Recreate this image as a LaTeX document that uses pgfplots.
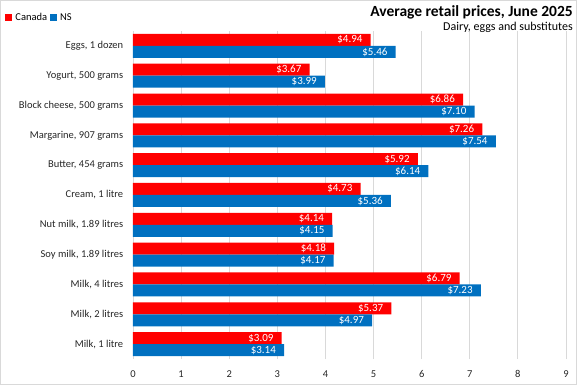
\documentclass[border=0pt]{standalone}
\usepackage{pgfplots}
\pgfplotsset{compat=1.18}
\usepackage{fontspec}
\setmainfont{Carlito}
\definecolor{cred}{HTML}{FF0000}
\definecolor{cblue}{HTML}{0070C0}
\definecolor{gridc}{HTML}{D9D9D9}
\begin{document}
\begin{tikzpicture}
\begin{axis}[
  name=main,
  at={(0pt,0pt)}, anchor=south west,
  scale only axis, width=433pt, height=328pt,
  xmin=0, xmax=9, ymin=-0.5, ymax=10.5,
  xtick={0,...,9},
  ytick={0,...,10},
  yticklabels={{Milk, 1 litre},{Milk, 2 litres},{Milk, 4 litres},{Soy milk, 1.89 litres},{Nut milk, 1.89 litres},{Cream, 1 litre},{Butter, 454 grams},{Margarine, 907 grams},{Block cheese, 500 grams},{Yogurt, 500 grams},{Eggs, 1 dozen}},
  axis line style={draw=none},
  major tick style={draw=none},
  xmajorgrids, grid style={gridc, line width=0.8pt},
  /pgf/number format/assume math mode=true,
  tick label style={font=\fontsize{10.5}{12}\selectfont, text=black!85},
  xticklabel style={yshift=-8pt},
  yticklabel style={xshift=-2pt},
  xbar, bar width=12pt,
  point meta=x,
  nodes near coords={\$\pgfmathprintnumber[fixed,fixed zerofill,precision=2,assume math mode=true]{\pgfplotspointmeta}},
  nodes near coords style={anchor=east, text=white, font=\fontsize{11}{12}\selectfont, inner sep=0pt, xshift=-8pt},
  legend columns=2,
  legend style={at={(-0.295,1.06)}, anchor=north west, draw=none, fill=none, font=\fontsize{10.5}{12}\selectfont, column sep=1pt, inner sep=0pt},
  legend image code/.code={\fill[#1] (0pt,-3.5pt) rectangle (7pt,3.5pt);},
  clip=false,
]
\addplot[fill=cred, draw=none, bar shift=6pt] coordinates {
  (3.09,0) (5.37,1) (6.79,2) (4.18,3) (4.14,4) (4.73,5) (5.92,6) (7.26,7) (6.86,8) (3.67,9) (4.94,10)};
\addlegendentry{Canada}
\addplot[fill=cblue, draw=none, bar shift=-6pt] coordinates {
  (3.14,0) (4.97,1) (7.23,2) (4.17,3) (4.15,4) (5.36,5) (6.14,6) (7.54,7) (7.10,8) (3.99,9) (5.46,10)};
\addlegendentry{NS}
\end{axis}
\draw[draw=gridc,line width=0.8pt] (-132.6pt,-25.6pt) rectangle (443.6pt,358.6pt);
\node[anchor=north east, font=\fontsize{15.5}{17}\selectfont\bfseries, inner sep=0pt] at (440pt,354pt) {Average retail prices, June 2025};
\node[anchor=north east, font=\fontsize{12}{14}\selectfont, inner sep=0pt] at (440pt,337pt) {Dairy, eggs and substitutes};
\end{tikzpicture}
\end{document}
